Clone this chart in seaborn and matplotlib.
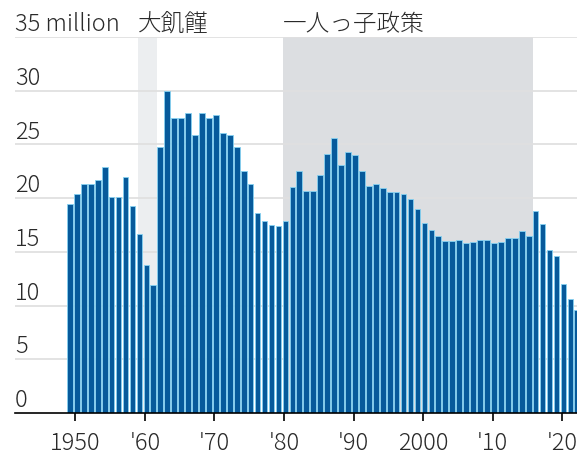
import numpy as np
import pandas as pd
import matplotlib
matplotlib.use("Agg")
import matplotlib.pyplot as plt
import matplotlib.transforms as mtransforms
import seaborn as sns

# births in China, millions
years = list(range(1949, 2023))
births = [19.5, 20.4, 21.3, 21.3, 21.7, 22.9, 20.1, 20.1, 22.0, 19.3,
          16.7, 13.8, 11.9, 24.8, 30.0, 27.5, 27.5, 27.9, 25.9, 27.9,
          27.5, 27.7, 26.1, 25.9, 24.8, 22.5, 21.3, 18.6, 17.9, 17.5,
          17.4, 17.9, 21.0, 22.5, 20.7, 20.7, 22.2, 24.1, 25.6, 23.1,
          24.3, 24.0, 22.5, 21.1, 21.3, 20.9, 20.6, 20.6, 20.4, 19.9,
          19.0, 17.7, 17.0, 16.5, 16.0, 16.0, 16.1, 15.8, 15.9, 16.1,
          16.1, 15.8, 15.9, 16.3, 16.3, 16.9, 16.5, 18.8, 17.6, 15.2,
          14.6, 12.0, 10.6, 9.6]

y_ticks = [0, 5, 10, 15, 20, 25, 30, 35]
y_labels = ["0", "5", "10", "15", "20", "25", "30", "35 million"]
x_ticks = [1950, 1960, 1970, 1980, 1990, 2000, 2010, 2020]
x_labels = ["1950", "'60", "'70", "'80", "'90", "2000", "'10", "'20"]

famine = (1958.8, 1961.6, "大飢饉")
one_child = (1979.6, 2015.6, "一人っ子政策")

df = pd.DataFrame({"year": years, "births": births})

sns.set_theme(style="white")
plt.rcParams["font.family"] = ["Noto Sans CJK JP", "DejaVu Sans"]
txt_color = "#2a2a2a"
fw = "light"

fig = plt.figure(figsize=(5.77, 4.55), dpi=100)
ax = fig.add_axes([15 / 577, 42 / 455, 562 / 577, 376 / 455])

ax.axvspan(famine[0], famine[1], color="#eceef0", lw=0, zorder=0.3)
ax.axvspan(one_child[0], one_child[1], color="#dcdee1", lw=0, zorder=0.3)
for v in y_ticks[1:]:
    ax.axhline(v, color="#e0e0e0", lw=1.3, zorder=0.6)

sns.barplot(data=df, x="year", y="births", native_scale=True, width=0.82,
            color="#075a9b", saturation=1, edgecolor="#86d2f2", linewidth=0.6,
            errorbar=None, ax=ax, zorder=2)

ax.set_xlim(1941.1, 2021.95)
ax.set_ylim(0, 35)
ax.set_xlabel("")
ax.set_ylabel("")
for s in ["top", "right", "left"]:
    ax.spines[s].set_visible(False)
ax.spines["bottom"].set_color("black")
ax.spines["bottom"].set_linewidth(1.2)
ax.spines["bottom"].set_zorder(3)

ax.set_xticks([t - 0.2 for t in x_ticks])
ax.set_xticklabels(x_labels, fontsize=17, color=txt_color, fontweight=fw)
ax.tick_params(axis="x", bottom=True, length=6, width=1.2, color="black", pad=7)
ax.set_yticks([])

trans = mtransforms.blended_transform_factory(ax.transAxes, ax.transData)
for v, lab in zip(y_ticks, y_labels):
    ax.text(0, v + 0.55, lab, transform=trans, ha="left", va="baseline",
            fontsize=17, color=txt_color, fontweight=fw, clip_on=False)

for x0, x1, lab in [famine, one_child]:
    ax.text(x0, 35.55, lab, ha="left", va="baseline", fontsize=17,
            color=txt_color, fontweight=fw, clip_on=False)

fig.savefig("out.png", dpi=100)
